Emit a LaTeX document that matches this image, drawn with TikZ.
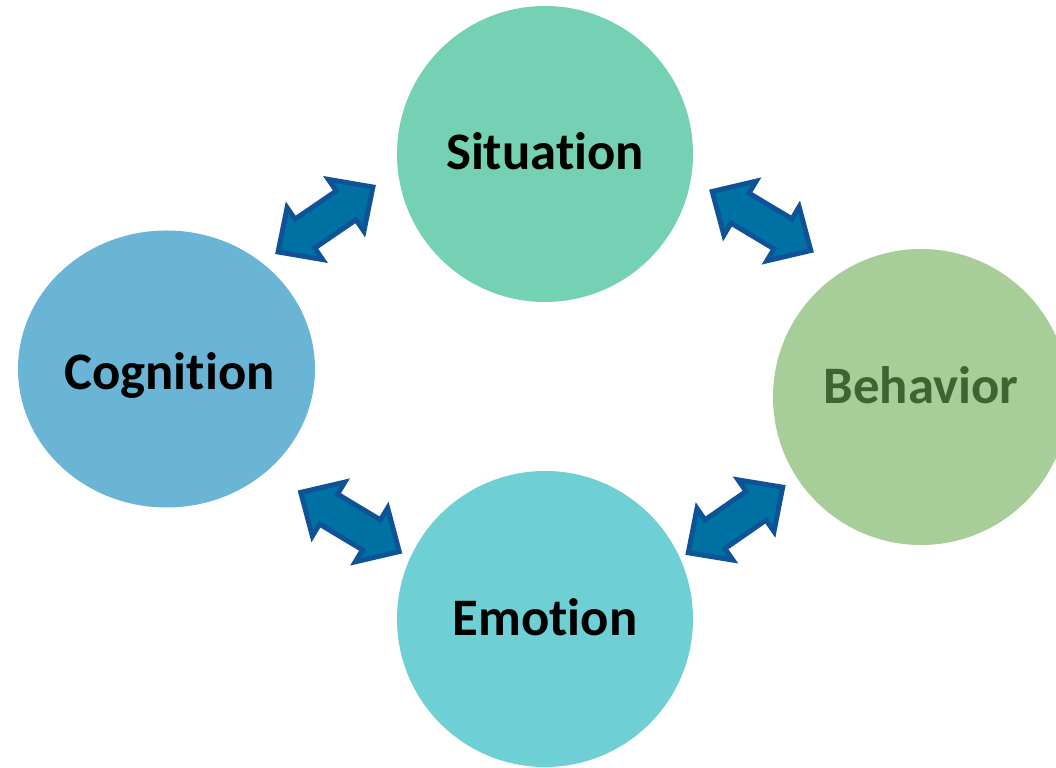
\documentclass[tikz,border=0pt]{standalone}
\usepackage{fontspec}
\setmainfont{Carlito}[Ligatures=NoCommon]
\usetikzlibrary{shapes.geometric}

\definecolor{situacao}{HTML}{74D1B4}
\definecolor{cognicao}{HTML}{6AB5D5}
\definecolor{comportamento}{HTML}{A7CD98}
\definecolor{emocao}{HTML}{6ECFD4}
\definecolor{textoverde}{HTML}{3E6431}
\definecolor{seta}{HTML}{0071A3}
\definecolor{bordaseta}{HTML}{0D5395}

\tikzset{
    bolha/.style={circle, minimum size=2.96cm, inner sep=0pt, text height=9.66pt, text depth=0pt,
        font=\fontsize{15}{18}\selectfont\bfseries},
    setadupla/.pic={
        \filldraw[seta, draw=bordaseta, line width=1.4pt, line join=miter]
            (-0.575,0) -- (-0.25,0.315) -- (-0.25,0.175) -- (0.25,0.175) -- (0.25,0.315)
            -- (0.575,0) -- (0.25,-0.315) -- (0.25,-0.175) -- (-0.25,-0.175) -- (-0.25,-0.315) -- cycle;
    }
}

\begin{document}
\begin{tikzpicture}
        \useasboundingbox (0,0) rectangle (10.56,7.68);
        \clip (0,0) rectangle (10.56,7.68);

        % Desenha os circulos
        \node[bolha, fill=situacao] (sit) at (5.45,6.14) {\raisebox{0.015cm}{Situation}};
        \node[bolha, ellipse, fill=cognicao, minimum width=2.97cm, minimum height=2.77cm] (cog) at (1.665,3.99) {\raisebox{-0.035cm}{\makebox[0pt]{\hspace*{0.06cm}Cognition}}};
        \node[bolha, fill=comportamento, text=textoverde] (beh) at (9.21,3.71) {\raisebox{0.105cm}{Behavior}};
        \node[bolha, fill=emocao] (emo) at (5.45,1.49) {Emotion};

        % Setas duplas entre os circulos
        \pic[rotate=34.4] at (3.255,5.485) {setadupla};
        \pic[rotate=-30.9] at (7.615,5.47) {setadupla};
        \pic[rotate=-31] at (3.50,2.46) {setadupla};
        \pic[rotate=34.8] at (7.355,2.48) {setadupla};
    \end{tikzpicture}
\end{document}
